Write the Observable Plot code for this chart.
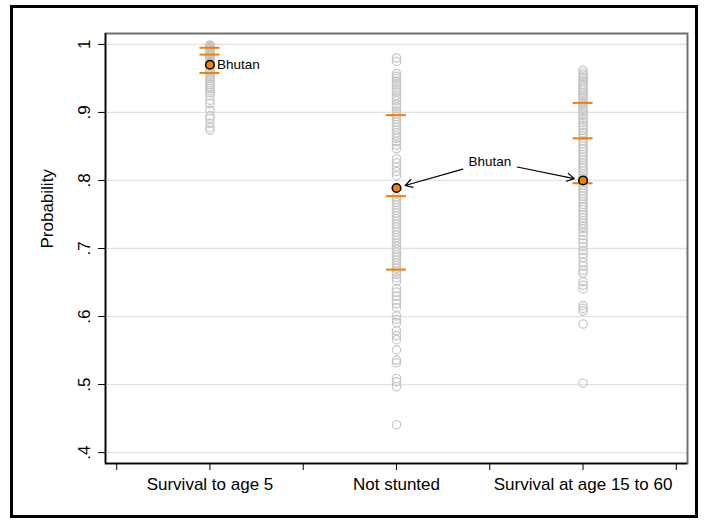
<!DOCTYPE html>
<html><head><meta charset="utf-8">
<script src="https://cdn.jsdelivr.net/npm/d3@7"></script>
<script src="https://cdn.jsdelivr.net/npm/@observablehq/plot@0.6"></script>
<style>
body{margin:0;background:#fff;}
#wrap{position:relative;width:704px;height:523px;}
#wrap svg{position:absolute;left:0;top:0;}
#border{position:absolute;left:10px;top:5px;width:688px;height:513px;box-sizing:border-box;border:3px solid #000;pointer-events:none;}
</style></head><body>
<div id="wrap"><div id="border"></div></div>
<script>
const categories = ["Survival to age 5", "Not stunted", "Survival at age 15 to 60"];

const survival5 = [0.999, 0.998, 0.997, 0.996, 0.995, 0.994, 0.993, 0.992, 0.991, 0.990, 0.989, 0.988, 0.987, 0.986, 0.985, 0.984, 0.982, 0.981, 0.979, 0.977, 0.975, 0.973, 0.968, 0.965, 0.962, 0.960, 0.958, 0.955, 0.952, 0.950, 0.947, 0.944, 0.941, 0.938, 0.935, 0.932, 0.929, 0.925, 0.918, 0.913, 0.903, 0.895, 0.891, 0.884, 0.878, 0.874];

const notStunted = [0.980, 0.975, 0.957, 0.953, 0.950, 0.946, 0.943, 0.940, 0.936, 0.933, 0.930, 0.925, 0.921, 0.917, 0.912, 0.908, 0.902, 0.898, 0.894, 0.890, 0.886, 0.882, 0.878, 0.874, 0.870, 0.866, 0.862, 0.857, 0.852, 0.847, 0.832, 0.826, 0.820, 0.813, 0.807, 0.776, 0.772, 0.768, 0.764, 0.760, 0.756, 0.752, 0.748, 0.744, 0.740, 0.736, 0.732, 0.728, 0.724, 0.720, 0.716, 0.712, 0.708, 0.703, 0.699, 0.695, 0.691, 0.687, 0.683, 0.679, 0.675, 0.671, 0.666, 0.662, 0.657, 0.652, 0.641, 0.636, 0.630, 0.624, 0.619, 0.613, 0.601, 0.596, 0.591, 0.579, 0.572, 0.566, 0.551, 0.536, 0.532, 0.509, 0.504, 0.497, 0.441];

const survival1560 = [0.962, 0.958, 0.955, 0.952, 0.950, 0.947, 0.944, 0.941, 0.938, 0.935, 0.932, 0.929, 0.926, 0.923, 0.920, 0.916, 0.913, 0.910, 0.906, 0.903, 0.899, 0.896, 0.892, 0.889, 0.885, 0.881, 0.878, 0.874, 0.870, 0.866, 0.862, 0.858, 0.854, 0.850, 0.846, 0.842, 0.838, 0.834, 0.830, 0.826, 0.822, 0.818, 0.814, 0.810, 0.806, 0.803, 0.797, 0.793, 0.789, 0.785, 0.781, 0.777, 0.773, 0.769, 0.765, 0.761, 0.757, 0.753, 0.749, 0.745, 0.741, 0.737, 0.733, 0.729, 0.724, 0.719, 0.713, 0.708, 0.703, 0.697, 0.692, 0.687, 0.680, 0.674, 0.668, 0.664, 0.651, 0.646, 0.641, 0.616, 0.612, 0.608, 0.589, 0.502];

const bhutan = [0.970, 0.789, 0.800];
const markerLow = [0.958, 0.669, 0.796];
const markerMid = [0.985, 0.777, 0.862];
const markerHigh = [0.995, 0.896, 0.914];

const yTicks = [0.4, 0.5, 0.6, 0.7, 0.8, 0.9, 1];
const yTickLabels = [".4", ".5", ".6", ".7", ".8", ".9", "1"];
const xTicks = [0, 1, 2, 3, 4, 5, 6];
const yTitle = "Probability";
const annotationLabel = "Bhutan";
const annotationY = 0.828;

const xPos = i => 2 * i + 1;
const series = [survival5, notStunted, survival1560];
const points = series.flatMap((vals, i) => vals.map(v => ({x: xPos(i), y: v})));
const markers = categories.flatMap((c, i) => [markerLow[i], markerMid[i], markerHigh[i]].map(v => ({x: xPos(i), y: v})));
const bh = categories.map((c, i) => ({x: xPos(i), y: bhutan[i]}));
const labelX = (xPos(1) + xPos(2)) / 2;

const xDomain = [-0.12, 6.12];
const yDomain = [0.384, 1.016];
const orange = "#f58000";

const chart = Plot.plot({
  width: 704, height: 523,
  marginLeft: 105, marginRight: 17, marginTop: 33, marginBottom: 60,
  x: {domain: xDomain},
  y: {domain: yDomain},
  style: {fontFamily: "'Liberation Sans', Arial, sans-serif", fontSize: "17px", background: "transparent", color: "#000"},
  marks: [
    Plot.gridY(yTicks, {stroke: "#e2e2e2", strokeOpacity: 1, strokeWidth: 1.3}),
    Plot.frame({stroke: "#707070", strokeWidth: 2}),
    Plot.ruleX([xDomain[0]], {stroke: "#000", strokeWidth: 1.5}),
    Plot.ruleY([yDomain[0]], {stroke: "#000", strokeWidth: 1.5}),
    Plot.axisY({ticks: yTicks, tickFormat: d => yTickLabels[yTicks.indexOf(d)], tickSize: 7, tickPadding: 9, tickRotate: -90, fontSize: 17, label: null}),
    Plot.axisX({ticks: xTicks, tickFormat: d => (d % 2 === 1 ? categories[(d - 1) / 2] : ""), tickSize: 7, tickPadding: 7, fontSize: 17, label: null}),
    Plot.text([yTitle], {frameAnchor: "left", text: d => d, rotate: -90, dx: -58, fontSize: 17}),
    Plot.dot(points, {x: "x", y: "y", r: 4.2, stroke: "#c6c6c6", strokeWidth: 1.2, fill: "none"}),
    Plot.ruleY(markers, {y: "y", x1: d => d.x - 0.107, x2: d => d.x + 0.107, stroke: orange, strokeWidth: 2}),
    Plot.arrow(bh.slice(1), {x1: () => labelX, y1: () => annotationY, x2: "x", y2: "y", insetStart: 28, insetEnd: 9, stroke: "#000", strokeWidth: 1.2, headLength: 10}),
    Plot.dot(bh, {x: "x", y: "y", r: 4.3, fill: orange, stroke: "#000", strokeWidth: 1.5}),
    Plot.text([bh[0]], {x: "x", y: "y", text: () => annotationLabel, textAnchor: "start", dx: 7, fontSize: 13.5}),
    Plot.text([annotationLabel], {x: () => labelX, y: () => annotationY, text: d => d, fontSize: 13.5})
  ]
});
document.getElementById("wrap").prepend(chart);
</script>
</body></html>
